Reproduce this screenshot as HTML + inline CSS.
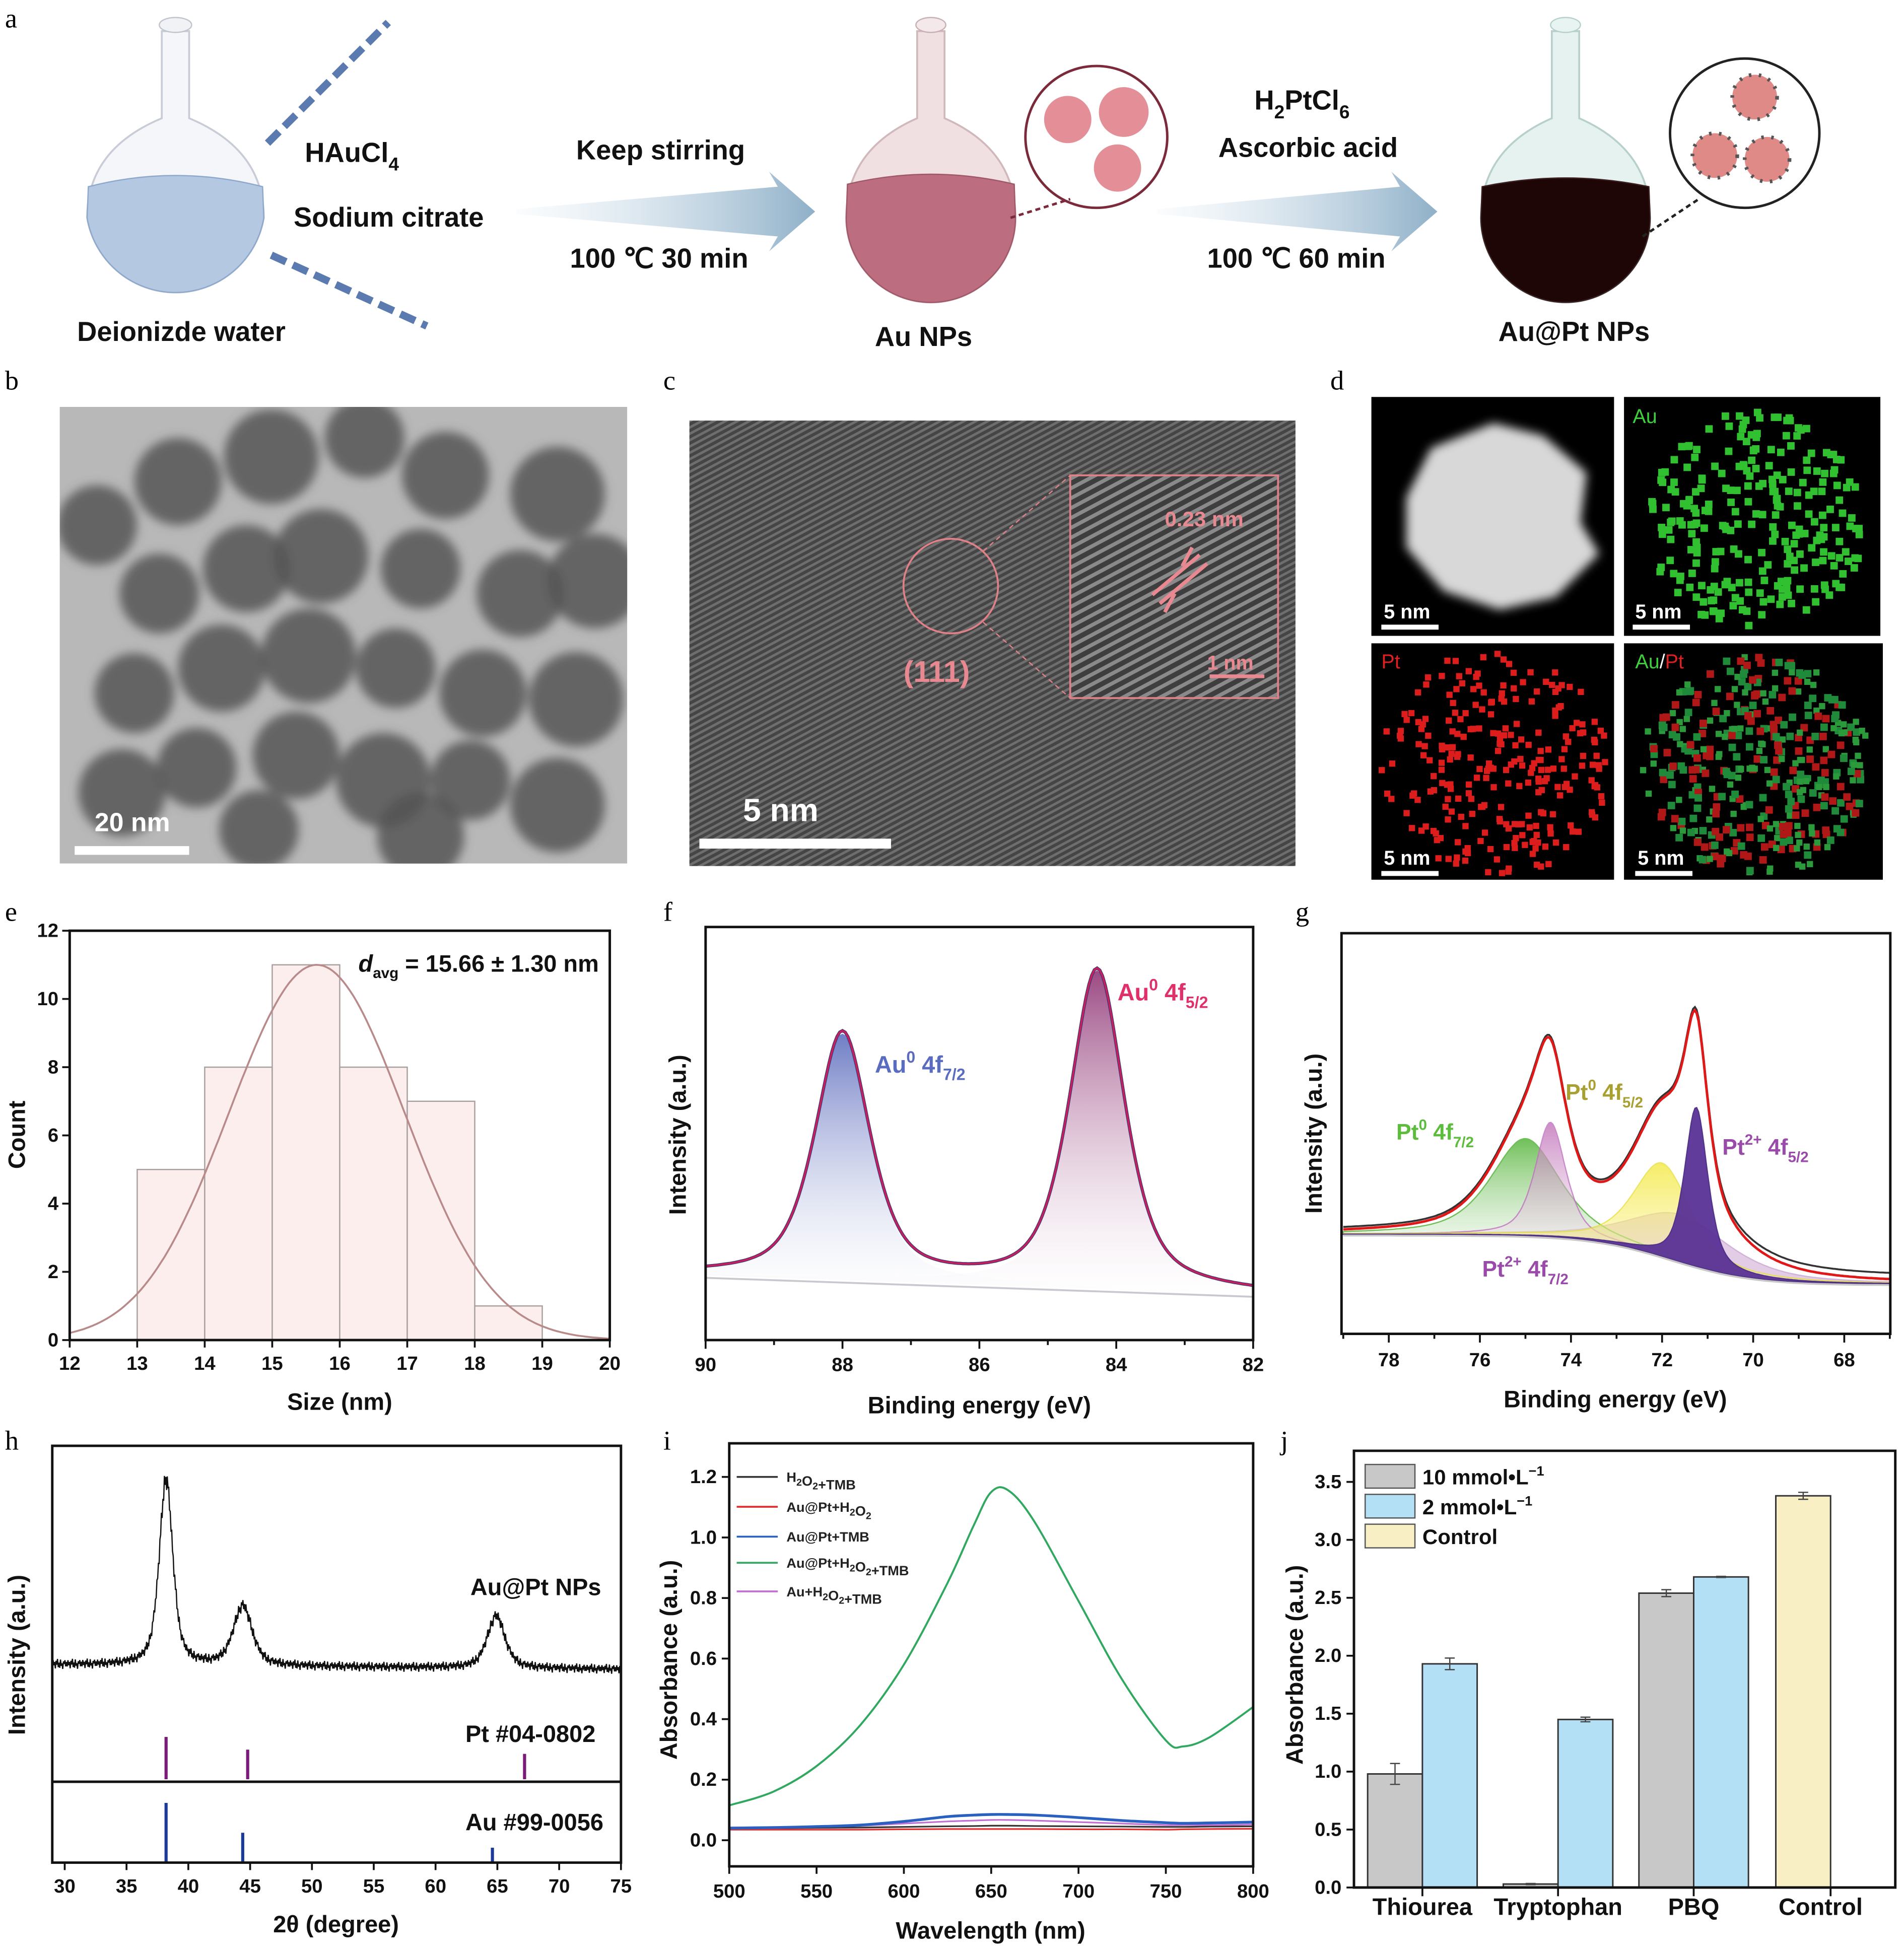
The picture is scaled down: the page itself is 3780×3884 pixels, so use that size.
<!DOCTYPE html>
<html><head><meta charset="utf-8"><style>
html,body{margin:0;padding:0;background:#fff;}
svg{display:block;}
text{font-family:"Liberation Sans",Arial,sans-serif;}
.pl{font-family:"Liberation Serif",serif;font-size:22px;}
.tk{font-size:15.5px;font-weight:bold;fill:#111;}
.at{font-size:19px;font-weight:bold;fill:#111;}
.sc{font-size:22px;font-weight:bold;fill:#111;}
</style></head><body>
<svg id="fig" width="3780" height="3884" viewBox="0 0 1530 1572" xmlns="http://www.w3.org/2000/svg">
<defs>
<linearGradient id="arrowG" x1="0" x2="1"><stop offset="0" stop-color="#cfe0ec" stop-opacity="0.1"/><stop offset="1" stop-color="#8fb0c8"/></linearGradient>
<linearGradient id="blueF" x1="0" y1="0" x2="0" y2="1"><stop offset="0" stop-color="#5566bb"/><stop offset="1" stop-color="#ffffff" stop-opacity="0.3"/></linearGradient>
<linearGradient id="purpF" x1="0" y1="0" x2="0" y2="1"><stop offset="0" stop-color="#8a2a6e"/><stop offset="1" stop-color="#ffffff" stop-opacity="0.3"/></linearGradient>
<linearGradient id="greenF" x1="0" y1="0" x2="0" y2="1"><stop offset="0" stop-color="#4cb030"/><stop offset="1" stop-color="#ffffff" stop-opacity="0.2"/></linearGradient>
<linearGradient id="pinkF" x1="0" y1="0" x2="0" y2="1"><stop offset="0" stop-color="#c070b8"/><stop offset="1" stop-color="#ffffff" stop-opacity="0.2"/></linearGradient>
<linearGradient id="yelF" x1="0" y1="0" x2="0" y2="1"><stop offset="0" stop-color="#f2e840"/><stop offset="1" stop-color="#fff8c0" stop-opacity="0.5"/></linearGradient>
<filter id="blur3"><feGaussianBlur stdDeviation="4"/></filter>
<filter id="blur1"><feGaussianBlur stdDeviation="1.2"/></filter>
<pattern id="lat" width="4.5" height="4.5" patternUnits="userSpaceOnUse" patternTransform="rotate(62)"><rect width="4.5" height="4.5" fill="#4a4a4a"/><rect width="2" height="4.5" fill="#7e7e7e"/></pattern>
<pattern id="lat2" width="7" height="7" patternUnits="userSpaceOnUse" patternTransform="rotate(62)"><rect width="7" height="7" fill="#3e3e3e"/><rect width="3" height="7" fill="#8a8a8a"/></pattern>
</defs>

<!-- panel a -->
<g>
<text class="pl" x="4" y="22">a</text>
<g>
<path d="M130,25 L130,95 Q70,120 70,175 A72,72 0 0 0 212,175 Q212,120 152,95 L152,25 Z" fill="#f4f6fa" stroke="#c8ccd6" stroke-width="1.5"/>
<path d="M71,150 Q141,132 211,150 L212,175 A72,72 0 0 1 70,175 Z" fill="#b4c8e2" stroke="#8ea8cc"/>
<ellipse cx="141" cy="20" rx="13" ry="6" fill="#f0f2f6" stroke="#c0c4cc"/>
</g>
<line x1="215" y1="115" x2="312" y2="18" stroke="#5a7ab0" stroke-width="6" stroke-dasharray="13,6"/>
<line x1="218" y1="205" x2="343" y2="262" stroke="#5a7ab0" stroke-width="6" stroke-dasharray="13,6"/>
<text x="245" y="130" class="sc" font-size="21">HAuCl<tspan dy="7" font-size="15">4</tspan></text>
<text x="236" y="182" class="sc" font-size="21">Sodium citrate</text>
<text x="62" y="274" class="sc" font-size="21">Deionizde water</text>
<polygon points="415,168 625,150 618,138 655,170 618,202 625,190 415,172" fill="url(#arrowG)"/>
<text x="463" y="128" class="sc" font-size="21">Keep stirring</text>
<text x="458" y="215" class="sc" font-size="21">100 ℃ 30 min</text>
<g>
<path d="M737,25 L737,95 Q680,120 680,175 A68,68 0 0 0 816,175 Q816,120 759,95 L759,25 Z" fill="#f0e0e2" stroke="#d0b8bc" stroke-width="1.5"/>
<path d="M681,148 Q748,132 815,148 L816,175 A68,68 0 0 1 680,175 Z" fill="#bc6e80" stroke="#a05868"/>
<ellipse cx="748" cy="20" rx="12" ry="6" fill="#f4e8ea" stroke="#c8b0b4"/>
</g>
<circle cx="881" cy="110" r="57" fill="#fff" stroke="#7a2a3a" stroke-width="2"/>
<circle cx="858" cy="96" r="19" fill="#e48f98"/><circle cx="903" cy="90" r="20" fill="#e48f98"/><circle cx="898" cy="135" r="19" fill="#e48f98"/>
<line x1="812" y1="175" x2="860" y2="160" stroke="#7a2a3a" stroke-width="2" stroke-dasharray="4,3"/>
<polygon points="930,168 1125,150 1118,138 1155,170 1118,202 1125,190 930,172" fill="url(#arrowG)"/>
<text x="1008" y="88" class="sc" font-size="21">H<tspan dy="7" font-size="15">2</tspan><tspan dy="-7">PtCl</tspan><tspan dy="7" font-size="15">6</tspan></text>
<text x="979" y="126" class="sc" font-size="21">Ascorbic acid</text>
<text x="970" y="215" class="sc" font-size="21">100 ℃ 60 min</text>
<text x="703" y="278" class="sc" font-size="21">Au NPs</text>
<g>
<path d="M1247,25 L1247,95 Q1190,120 1190,175 A68,68 0 0 0 1326,175 Q1326,120 1269,95 L1269,25 Z" fill="#e6f2ef" stroke="#b8d0cc" stroke-width="1.5"/>
<path d="M1191,150 Q1258,136 1325,150 L1326,175 A68,68 0 0 1 1190,175 Z" fill="#1e0606" stroke="#3a2020"/>
<ellipse cx="1258" cy="20" rx="12" ry="6" fill="#e8f4f2" stroke="#b8d0cc"/>
</g>
<circle cx="1402" cy="107" r="60" fill="#fff" stroke="#222" stroke-width="2"/>
<g fill="#e08a88" stroke="#555" stroke-width="3" stroke-dasharray="2,6"><circle cx="1410" cy="78" r="18"/><circle cx="1378" cy="125" r="18"/><circle cx="1420" cy="128" r="18"/></g>
<line x1="1320" y1="190" x2="1365" y2="160" stroke="#222" stroke-width="2" stroke-dasharray="4,3"/>
<text x="1204" y="274" class="sc" font-size="21">Au@Pt NPs</text>
</g>

<!-- panel b -->
<g>
<text class="pl" x="4" y="313">b</text>
<svg x="48" y="327" width="456" height="367" overflow="hidden">
<rect width="456" height="367" fill="#b8b8b8"/>
<g id="temBlobs" fill="#555" filter="url(#blur3)"></g>
</svg>
<rect x="60" y="680" width="92" height="7" fill="#fff"/>
<text x="76" y="668" fill="#fff" font-size="21" font-weight="bold">20 nm</text>
</g>

<!-- panel c -->
<g>
<text class="pl" x="533" y="313">c</text>
<rect x="554" y="338" width="487" height="358" fill="url(#lat)"/>
<rect x="554" y="338" width="487" height="358" fill="#333" opacity="0.2"/>
<circle cx="764" cy="471" r="38" fill="none" stroke="#e08088" stroke-width="1.5"/>
<line x1="790" y1="443" x2="860" y2="382" stroke="#e08088" stroke-dasharray="4,3"/>
<line x1="790" y1="500" x2="860" y2="561" stroke="#e08088" stroke-dasharray="4,3"/>
<rect x="860" y="382" width="167" height="179" fill="url(#lat2)" stroke="#e08088" stroke-width="1.5"/>
<text x="936" y="423" fill="#e88890" font-size="17" font-weight="bold">0.23 nm</text>
<path d="M926,478 L964,446 M932,485 L970,453 M958,440 L950,455 M936,492 L944,477" stroke="#e88890" stroke-width="3"/>
<text x="970" y="538" fill="#e88890" font-size="16" font-weight="bold">1 nm</text>
<rect x="972" y="542" width="44" height="3" fill="#e88890"/>
<text x="726" y="548" fill="#e88890" font-size="24" font-weight="bold">(111)</text>
<text x="597" y="660" fill="#fff" font-size="26" font-weight="bold">5 nm</text>
<rect x="562" y="674" width="154" height="8" fill="#fff"/>
</g>

<!-- panel d -->
<g>
<text class="pl" x="1069" y="313">d</text>
<rect x="1102" y="319" width="195" height="192" fill="#000"/>
<g filter="url(#blur3)"><path d="M1200,340 L1240,350 L1275,380 L1270,420 L1285,445 L1250,480 L1205,490 L1160,475 L1130,440 L1130,400 L1150,360 Z" fill="#d8d8d8"/></g>
<rect x="1305" y="319" width="206" height="192" fill="#000"/>
<rect x="1102" y="517" width="195" height="190" fill="#000"/>
<rect x="1305" y="517" width="208" height="190" fill="#000"/>
<g id="mapDots"></g>
<text x="1312" y="340" fill="#3cd03c" font-size="16">Au</text>
<text x="1110" y="537" fill="#e02020" font-size="16">Pt</text>
<text x="1314" y="537" font-size="16"><tspan fill="#3cd03c">Au</tspan><tspan fill="#fff">/</tspan><tspan fill="#e02020">Pt</tspan></text>
<g fill="#fff" font-size="16" font-weight="bold">
<text x="1112" y="497">5 nm</text><rect x="1110" y="502" width="46" height="4"/>
<text x="1314" y="497">5 nm</text><rect x="1312" y="502" width="46" height="4"/>
<text x="1112" y="695">5 nm</text><rect x="1110" y="700" width="46" height="4"/>
<text x="1316" y="695">5 nm</text><rect x="1314" y="700" width="46" height="4"/>
</g>
</g>

<g id="charts"></g>
<text class="pl" x="4" y="740">e</text>
<text class="pl" x="533" y="740">f</text>
<text class="pl" x="1041" y="740">g</text>
<text class="pl" x="4" y="1165">h</text>
<text class="pl" x="533" y="1165">i</text>
<text class="pl" x="1029" y="1165">j</text>
</svg>

<script>
// ===== data =====
// e: histogram
const histBinStarts = [13,14,15,16,17,18];
const histCounts = [5,8,11,8,7,1];
const histFit = [15.66, 1.30, 11]; // mean, sd, amplitude
// f: Au 4f peaks
const fCenters = [88.0, 84.28];
const fHeights = [198, 256];
const fWidths = [0.95, 0.95];
// g: Pt 4f components
const gCenters = [75.0, 74.45, 72.0, 71.25, 71.6];
const gHeights = [78, 92, 75, 128, 38];
const gWidths = [1.8, 0.8, 1.5, 0.6, 2.6];
// h: XRD
const xrdPeaks = [38.2, 44.4, 64.9];
const xrdHeights = [150, 48, 42];
const xrdWidths = [1.3, 1.8, 1.7];
const xrdTexture = [2,-3,1,-1.5,3.5,-2.5,0.5,-4,2.5,-1,3,-3.5,1.5,-0.5,4,-2,0,-3,2,-1.5];
const ptRefPos = [38.2, 44.8, 67.2];
const ptRefLen = [1, 0.7, 0.6];
const auRefPos = [38.2, 44.4, 64.6];
const auRefLen = [1, 0.5, 0.25];
// i: UV-vis
const wl = [500,525,550,575,600,625,640,650,660,675,700,725,750,760,775,800];
const absGreen = [0.115,0.16,0.245,0.38,0.58,0.85,1.04,1.15,1.155,1.05,0.79,0.53,0.33,0.31,0.34,0.44];
const absBlue = [0.04,0.042,0.045,0.05,0.062,0.078,0.083,0.085,0.085,0.083,0.075,0.065,0.058,0.056,0.057,0.06];
const absPurple = [0.042,0.043,0.045,0.048,0.055,0.062,0.065,0.067,0.067,0.065,0.06,0.055,0.05,0.05,0.05,0.052];
const absRed = [0.035,0.035,0.035,0.035,0.036,0.037,0.037,0.037,0.037,0.037,0.036,0.036,0.035,0.036,0.037,0.038];
const absBlack = [0.04,0.04,0.041,0.042,0.044,0.046,0.047,0.048,0.048,0.047,0.046,0.045,0.044,0.044,0.045,0.046];
const iLegend = ["H2O2+TMB","Au@Pt+H2O2","Au@Pt+TMB","Au@Pt+H2O2+TMB","Au+H2O2+TMB"];
// j: bars
const jCats = ["Thiourea","Tryptophan","PBQ","Control"];
const j10 = [0.98, 0.03, 2.54, null];
const j10err = [0.09, 0.005, 0.03, 0];
const j2 = [1.93, 1.45, 2.68, null];
const j2err = [0.05, 0.02, 0.005, 0];
const jCtrl = [null, null, null, 3.38];
const jCtrlErr = [0,0,0,0.03];

// ===== helpers =====
const NS="http://www.w3.org/2000/svg";
const root=document.getElementById('charts');
function add(parent, tag, attrs, name){
  const el=document.createElementNS(NS,tag);
  for(const k in attrs) el.setAttribute(k,attrs[k]);
  
  
  parent.appendChild(el); return el;
}
function lin(d0,d1,r0,r1){return v=>r0+(v-d0)*(r1-r0)/(d1-d0);}
function txt(parent,x,y,s,cls,anchor,name,extra){
  const t=add(parent,'text',Object.assign({x:x,y:y,class:cls,'text-anchor':anchor||'middle'},extra||{}),name);
  t.textContent=s; return t;
}
function pv(E,c,w){const d=(E-c)/(w/2);return 0.6/(1+d*d)+0.4*Math.exp(-Math.LN2*d*d);}
function frame(g,x0,y0,x1,y1,name){add(g,'rect',{x:x0,y:y0,width:x1-x0,height:y1-y0,fill:'none',stroke:'#111','stroke-width':2},name);}
function smooth(pts){let d='M'+pts[0][0].toFixed(1)+','+pts[0][1].toFixed(1);
  for(let i=0;i<pts.length-1;i++){const p0=pts[i-1]||pts[i],p1=pts[i],p2=pts[i+1],p3=pts[i+2]||p2;
   const c1=[p1[0]+(p2[0]-p0[0])/6,p1[1]+(p2[1]-p0[1])/6],c2=[p2[0]-(p3[0]-p1[0])/6,p2[1]-(p3[1]-p1[1])/6];
   d+='C'+c1[0].toFixed(1)+','+c1[1].toFixed(1)+' '+c2[0].toFixed(1)+','+c2[1].toFixed(1)+' '+p2[0].toFixed(1)+','+p2[1].toFixed(1);}
  return d;}

// ===== TEM blobs & map dots (image texture) =====
const blobs=[[30,95],[95,60],[170,40],[245,25],[310,55],[400,70],[80,150],[150,130],[210,120],[290,130],[370,150],[430,140],[60,230],[130,210],[200,200],[270,210],[340,230],[415,235],[110,290],[190,280],[260,300],[330,300],[50,310],[400,320],[160,340],[290,345]];
const tb=document.getElementById('temBlobs');
blobs.forEach((p,i)=>{add(tb,'circle',{cx:p[0],cy:p[1],r:32+(i%3)*3,opacity:0.85},'nanoparticle');});
const md=document.getElementById('mapDots');
function h(n){const s=Math.sin(n*127.1+311.7)*43758.5453;return s-Math.floor(s);}
for(let i=0;i<260;i++){
  const a=h(i)*6.283, r=Math.sqrt(h(i+999))*88;
  const x=Math.cos(a)*r, y=Math.sin(a)*r;
  add(md,'rect',{x:1408+x,y:415+y,width:6,height:6,fill:'#30c030'},'au-dot');
  const a2=h(i+500)*6.283, r2=Math.sqrt(h(i+1500))*92;
  add(md,'rect',{x:1199+Math.cos(a2)*r2,y:612+Math.sin(a2)*r2,width:5,height:5,fill:'#dd1c1c'},'pt-dot');
  add(md,'rect',{x:1409+x,y:612+y,width:6,height:6,fill:i%2?'#1f8a3a':'#b01818'},'aupt-dot');
  if(i%2==0) add(md,'rect',{x:1409+Math.cos(a2)*r2,y:612+Math.sin(a2)*r2,width:5,height:5,fill:'#2a9a3a'},'aupt-dot');
}

// ===== panel e =====
(function(){
 const g=add(root,'g',{},'panel-e-histogram');
 const X=lin(12,20,56,490), Y=lin(0,12,1077,748);
 histBinStarts.forEach((b,i)=>{
  add(g,'rect',{x:X(b),y:Y(histCounts[i]),width:X(b+1)-X(b),height:Y(0)-Y(histCounts[i]),fill:'#fdeeee',stroke:'#a8a0a0','stroke-width':1},'hist-bar-'+b);
 });
 let d='';for(let s=12;s<=20.001;s+=0.05){const v=histFit[2]*Math.exp(-Math.pow(s-histFit[0],2)/(2*histFit[1]*histFit[1]));d+=(d?'L':'M')+X(s).toFixed(1)+','+Y(v).toFixed(1);}
 add(g,'path',{d:d,fill:'none',stroke:'#b88a8a','stroke-width':1.5},'gaussian-fit');
 frame(g,56,748,490,1077,'plot-frame-e');
 for(let v=12;v<=20;v++){add(g,'line',{x1:X(v),x2:X(v),y1:1077,y2:1083,stroke:'#111','stroke-width':1.5},'x-tick');txt(g,X(v),1101,String(v),'tk','middle','x-tick-label');}
 for(let v=0;v<=12;v+=2){add(g,'line',{x1:50,x2:56,y1:Y(v),y2:Y(v),stroke:'#111','stroke-width':1.5},'y-tick');txt(g,47,Y(v)+5,String(v),'tk','end','y-tick-label');}
 txt(g,273,1133,'Size (nm)','at','middle','x-axis-title');
 txt(g,20,912,'Count','at','middle','y-axis-title',{transform:'rotate(-90 20 912)'});
 const t=add(g,'text',{x:288,y:781,class:'at','font-size':17},'annotation-davg');
 t.innerHTML='<tspan font-style="italic">d</tspan><tspan dy="5" font-size="12">avg</tspan><tspan dy="-5"> = 15.66 ± 1.30 nm</tspan>';
})();

// ===== panel f =====
(function(){
 const g=add(root,'g',{},'panel-f-xps-au');
 const X=lin(90,82,567,1007);
 const base=E=>1025+(90-E)*1.9;
 const cols=['url(#blueF)','url(#purpF)'];
 fCenters.forEach((c,i)=>{
  let d='',b='';
  for(let E=90;E>=82-1e-6;E-=0.04){d+=(d?'L':'M')+X(E).toFixed(1)+','+(base(E)-fHeights[i]*pv(E,c,fWidths[i])).toFixed(1);}
  for(let E=82;E<=90+1e-6;E+=0.5){b+='L'+X(E).toFixed(1)+','+base(E).toFixed(1);}
  add(g,'path',{d:d+b+'Z',fill:cols[i],opacity:0.85},'component-fill-'+i);
 });
 let bl='';for(let E=90;E>=82;E-=0.5){bl+=(bl?'L':'M')+X(E)+','+(base(E)+2);}
 add(g,'path',{d:bl,fill:'none',stroke:'#c8c8d0','stroke-width':1.5},'baseline');
 let env='';
 for(let E=90;E>=82-1e-6;E-=0.04){let y=base(E);fCenters.forEach((c,i)=>y-=fHeights[i]*pv(E,c,fWidths[i]));env+=(env?'L':'M')+X(E).toFixed(1)+','+y.toFixed(1);}
 add(g,'path',{d:env,fill:'none',stroke:'#3a3a7a','stroke-width':2.5},'raw-spectrum');
 add(g,'path',{d:env,fill:'none',stroke:'#c81e5a','stroke-width':1.5},'fit-envelope');
 frame(g,567,745,1007,1077,'plot-frame-f');
 for(let v=90;v>=82;v-=1){const maj=v%2==0;add(g,'line',{x1:X(v),x2:X(v),y1:1077,y2:maj?1084:1081,stroke:'#111','stroke-width':1.5},'x-tick');if(maj)txt(g,X(v),1102,String(v),'tk','middle','x-tick-label');}
 txt(g,787,1136,'Binding energy (eV)','at','middle','x-axis-title');
 txt(g,551,912,'Intensity (a.u.)','at','middle','y-axis-title',{transform:'rotate(-90 551 912)'});
 const a=add(g,'text',{x:703,y:862,fill:'#5a6cc0','font-size':19,'font-weight':'bold'},'label-au-4f72');a.innerHTML='Au<tspan dy="-8" font-size="13">0</tspan><tspan dy="8"> 4f</tspan><tspan dy="6" font-size="13">7/2</tspan>';
 const b=add(g,'text',{x:898,y:804,fill:'#e0306a','font-size':19,'font-weight':'bold'},'label-au-4f52');b.innerHTML='Au<tspan dy="-8" font-size="13">0</tspan><tspan dy="8"> 4f</tspan><tspan dy="6" font-size="13">5/2</tspan>';
})();

// ===== panel g =====
(function(){
 const g=add(root,'g',{},'panel-g-xps-pt');
 const X=lin(79,67,1079.4,1518.6);
 const base=E=>992+40/(1+Math.exp((E-71.8)/0.9));
 const fills=['url(#greenF)','url(#pinkF)','url(#yelF)','#5a3296','#dcc0e0'];
 const strokes=['#4cb030','#c070c0','#e8e040','#4a2a86','#c8a0d0'];
 const order=[4,0,1,2,3];
 order.forEach(i=>{
  let d='',b='';
  for(let E=79;E>=67-1e-6;E-=0.04){d+=(d?'L':'M')+X(E).toFixed(1)+','+(base(E)-gHeights[i]*pv(E,gCenters[i],gWidths[i])).toFixed(1);}
  for(let E=67;E<=79+1e-6;E+=0.25){b+='L'+X(E).toFixed(1)+','+base(E).toFixed(1);}
  add(g,'path',{d:d+b+'Z',fill:fills[i],stroke:strokes[i],'stroke-width':1,opacity:i==3?0.95:0.8},'component-'+i);
 });
 let bl='';for(let E=79;E>=67;E-=0.25){bl+=(bl?'L':'M')+X(E).toFixed(1)+','+(base(E)+1).toFixed(1);}
 add(g,'path',{d:bl,fill:'none',stroke:'#c8c8c8','stroke-width':1.5},'baseline');
 let env='',raw='';
 for(let E=79;E>=67-1e-6;E-=0.04){let y=base(E);gCenters.forEach((c,i)=>y-=gHeights[i]*pv(E,c,gWidths[i]));env+=(env?'L':'M')+X(E).toFixed(1)+','+y.toFixed(1);raw+=(raw?'L':'M')+X(E).toFixed(1)+','+(y-3/(1+Math.exp((E-70.5)/0.6))-2).toFixed(1);}
 add(g,'path',{d:raw,fill:'none',stroke:'#333','stroke-width':1.5},'raw-spectrum');
 add(g,'path',{d:env,fill:'none',stroke:'#e01818','stroke-width':2},'fit-envelope');
 frame(g,1078,750,1519,1072,'plot-frame-g');
 for(let v=79;v>=67;v-=1){const maj=v%2==0;add(g,'line',{x1:X(v),x2:X(v),y1:1072,y2:maj?1079:1076,stroke:'#111','stroke-width':1.5},'x-tick');if(maj)txt(g,X(v),1098,String(v),'tk','middle','x-tick-label');}
 txt(g,1298,1131,'Binding energy (eV)','at','middle','x-axis-title');
 txt(g,1062,911,'Intensity (a.u.)','at','middle','y-axis-title',{transform:'rotate(-90 1062 911)'});
 const L=[[1122,916,'#5cbc3c','Pt','0','7/2'],[1258,884,'#a8a030','Pt','0','5/2'],[1384,928,'#9a4aa8','Pt','2+','5/2'],[1191,1026,'#9a4aa8','Pt','2+','7/2']];
 L.forEach((l,k)=>{const t=add(g,'text',{x:l[0],y:l[1],fill:l[2],'font-size':18,'font-weight':'bold'},'component-label-'+k);t.innerHTML=l[3]+'<tspan dy="-8" font-size="12">'+l[4]+'</tspan><tspan dy="8"> 4f</tspan><tspan dy="6" font-size="12">'+l[5]+'</tspan>';});
})();

// ===== panel h =====
(function(){
 const g=add(root,'g',{},'panel-h-xrd');
 const X=lin(30,75,52,499);
 const base=t=>1338+(t-30)*0.08;
 let d='';let k=0;
 for(let t=29;t<=75.0001;t+=0.06){let y=base(t);xrdPeaks.forEach((c,i)=>y-=xrdHeights[i]*pv(t,c,xrdWidths[i]));y+=xrdTexture[k%xrdTexture.length]*(1+(1338-y)/120);k++;d+=(d?'L':'M')+X(t).toFixed(1)+','+y.toFixed(1);}
 add(g,'path',{d:d,fill:'none',stroke:'#111','stroke-width':1},'xrd-pattern');
 txt(g,378,1282,'Au@Pt NPs','at','start','label-aupt-nps');
 ptRefPos.forEach((p,i)=>add(g,'line',{x1:X(p),x2:X(p),y1:1430,y2:1430-34*ptRefLen[i],stroke:'#7a1a7a','stroke-width':2.5},'pt-reference-line'));
 auRefPos.forEach((p,i)=>add(g,'line',{x1:X(p),x2:X(p),y1:1497,y2:1497-48*auRefLen[i],stroke:'#1a3a9a','stroke-width':2.5},'au-reference-line'));
 txt(g,374,1400,'Pt #04-0802','at','start','label-pt-card',{fill:'#7a1a7a'});
 txt(g,374,1471,'Au #99-0056','at','start','label-au-card',{fill:'#1a3a9a'});
 frame(g,42,1162,499,1497,'plot-frame-h');
 add(g,'line',{x1:42,x2:499,y1:1432,y2:1432,stroke:'#111','stroke-width':2},'panel-divider');
 for(let v=30;v<=75;v+=5){add(g,'line',{x1:X(v),x2:X(v),y1:1497,y2:1503,stroke:'#111','stroke-width':1.5},'x-tick');txt(g,X(v),1521,String(v),'tk','middle','x-tick-label',{'font-size':13});}
 txt(g,270,1553,'2θ (degree)','at','middle','x-axis-title');
 txt(g,20,1330,'Intensity (a.u.)','at','middle','y-axis-title',{transform:'rotate(-90 20 1330)'});
})();

// ===== panel i =====
(function(){
 const g=add(root,'g',{},'panel-i-uvvis');
 const X=lin(500,800,586,1007), Y=lin(0,1.2,1479,1187);
 function line(arr,col,w,name){const pts=wl.map((x,i)=>[X(x),Y(arr[i])]);add(g,'path',{d:smooth(pts),fill:'none',stroke:col,'stroke-width':w,'stroke-linejoin':'round'},name);}
 line(absBlack,'#333',1.3,'series-h2o2-tmb');
 line(absPurple,'#c070d0',1.3,'series-au-h2o2-tmb');
 line(absRed,'#e03030',1.3,'series-aupt-h2o2');
 line(absBlue,'#2a60c0',2.2,'series-aupt-tmb');
 line(absGreen,'#30a860',1.6,'series-aupt-h2o2-tmb');
 frame(g,586,1160,1007,1500,'plot-frame-i');
 for(let v=500;v<=800;v+=50){add(g,'line',{x1:X(v),x2:X(v),y1:1500,y2:1506,stroke:'#111','stroke-width':1.5},'x-tick');txt(g,X(v),1525,String(v),'tk','middle','x-tick-label',{'font-size':13});}
 for(let v=0;v<=1.2001;v+=0.2){add(g,'line',{x1:580,x2:586,y1:Y(v),y2:Y(v),stroke:'#111','stroke-width':1.5},'y-tick');txt(g,576,Y(v)+5,v.toFixed(1),'tk','end','y-tick-label',{'font-size':13});}
 txt(g,796,1558,'Wavelength (nm)','at','middle','x-axis-title');
 txt(g,544,1334,'Absorbance (a.u.)','at','middle','y-axis-title',{transform:'rotate(-90 544 1334)'});
 const lc=['#333','#e03030','#2a60c0','#30a860','#c070d0'];
 const ly=[1187,1211,1235,1256,1279];
 iLegend.forEach((s,i)=>{add(g,'line',{x1:592,x2:625,y1:ly[i],y2:ly[i],stroke:lc[i],'stroke-width':1.5},'legend-line');
  const t=add(g,'text',{x:632,y:ly[i]+4,'font-size':11,'font-weight':'bold',fill:'#222'},'legend-entry');
  t.innerHTML=s.replace(/([HO])2/g,'$1<tspan dy="3" font-size="8">2</tspan><tspan dy="-3"></tspan>');});
})();

// ===== panel j =====
(function(){
 const g=add(root,'g',{},'panel-j-bars');
 const Y=lin(0,3.5,1517,1191);
 const centers=[1143,1252,1361,1471];
 const bw=44;
 function bar(v,e,x,col,name){if(v===null)return;add(g,'rect',{x:x,y:Y(v),width:bw,height:Y(0)-Y(v),fill:col,stroke:'#333','stroke-width':1.2},name);
  const cx=x+bw/2;add(g,'path',{d:'M'+cx+','+Y(v+e)+'V'+Y(v-e)+'M'+(cx-4)+','+Y(v+e)+'h8M'+(cx-4)+','+Y(v-e)+'h8',stroke:'#444','stroke-width':1,fill:'none'},'error-bar');}
 jCats.forEach((c,i)=>{
  bar(j10[i],j10err[i],centers[i]-bw,'#c8c8c8','bar-10mmol-'+c);
  bar(j2[i],j2err[i],centers[i],'#b4e0f6','bar-2mmol-'+c);
  bar(jCtrl[i],jCtrlErr[i],centers[i]-bw,'#f8f0c4','bar-control');
  txt(g,centers[i]+(i==3?-8:0),1539,c,'at','middle','x-tick-label');
 });
 add(g,'path',{d:'M1088,1166H1523V1517H1088Z',fill:'none',stroke:'#111','stroke-width':2},'plot-frame-j');
 centers.forEach(c=>add(g,'line',{x1:c,x2:c,y1:1517,y2:1524,stroke:'#111','stroke-width':1.5},'x-tick'));
 for(let v=0;v<=3.5001;v+=0.5){add(g,'line',{x1:1082,x2:1088,y1:Y(v),y2:Y(v),stroke:'#111','stroke-width':1.5},'y-tick');txt(g,1078,Y(v)+5,v.toFixed(1),'tk','end','y-tick-label',{'font-size':14});}
 txt(g,1047,1338,'Absorbance (a.u.)','at','middle','y-axis-title',{transform:'rotate(-90 1047 1338)'});
 const leg=[['#c8c8c8','10 mmol•L','−1'],['#b4e0f6','2 mmol•L','−1'],['#f8f0c4','Control','']];
 leg.forEach((l,i)=>{const y=1177+i*24;add(g,'rect',{x:1097,y:y,width:40,height:19,fill:l[0],stroke:'#555'},'legend-swatch');
  const t=add(g,'text',{x:1143,y:y+16,'font-size':17,'font-weight':'bold',fill:'#111'},'legend-entry');t.innerHTML=l[1]+(l[2]?'<tspan dy="-7" font-size="11">'+l[2]+'</tspan>':'');});
})();
</script>
</body></html>
